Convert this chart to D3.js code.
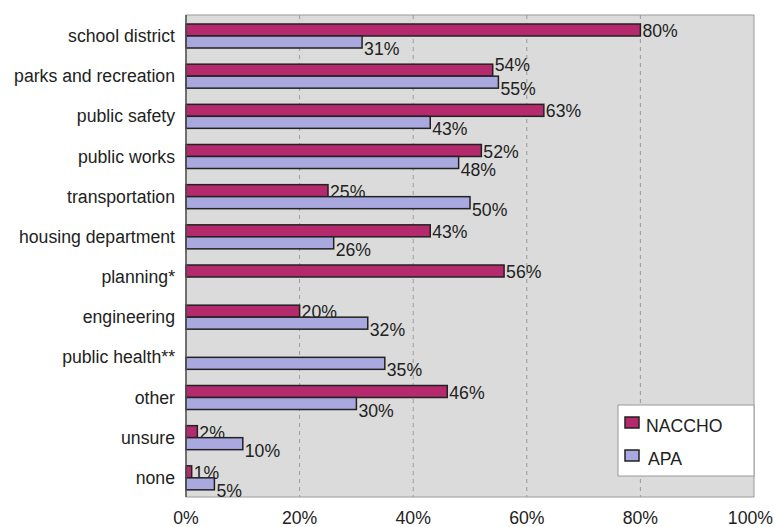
<!DOCTYPE html>
<html>
<head>
<meta charset="utf-8">
<script src="https://cdn.jsdelivr.net/npm/d3@7"></script>
<style>
  body { margin: 0; background: #fff; }
  svg { display: block; }
</style>
</head>
<body>
<svg id="chart" width="775" height="527"></svg>
<script>
// --- data ---
const categories = ["school district", "parks and recreation", "public safety", "public works",
  "transportation", "housing department", "planning*", "engineering", "public health**",
  "other", "unsure", "none"];
const naccho = [80, 54, 63, 52, 25, 43, 56, 20, null, 46, 2, 1];
const apa = [31, 55, 43, 48, 50, 26, null, 32, 35, 30, 10, 5];
const seriesNames = ["NACCHO", "APA"];
const ticks = [0, 20, 40, 60, 80, 100];

const width = 775, height = 527;
const margin = { top: 15, right: 21, bottom: 30, left: 186 };
const font = "'Liberation Sans', Arial, sans-serif";
const fontSize = "19px";
const squeeze = 0.93; // fake a condensed face
const colors = ["#b52a6c", "#a9a9e0"];

const svg = d3.select("#chart");

const x = d3.scaleLinear().domain([0, 100]).range([margin.left, width - margin.right]);
const y = d3.scaleBand().domain(categories).range([margin.top, height - margin.bottom]);
const barH = 12;

// helper: condensed text
const label = (sel, tx, ty, str, anchor) =>
  sel.append("text")
    .attr("transform", `translate(${tx},${ty}) scale(${squeeze},1)`)
    .attr("text-anchor", anchor || "start")
    .attr("font-family", font)
    .attr("font-size", fontSize)
    .attr("fill", "#222")
    .text(str);

// plot background
svg.append("rect")
  .attr("x", x(0)).attr("y", margin.top)
  .attr("width", x(100) - x(0)).attr("height", y.range()[1] - margin.top)
  .attr("fill", "#dadbda")
  .attr("stroke", "#9a9a9a").attr("stroke-width", 1);

// gridlines
svg.append("g")
  .selectAll("line")
  .data(ticks.filter(t => t > 0 && t < 100))
  .join("line")
  .attr("x1", d => x(d)).attr("x2", d => x(d))
  .attr("y1", margin.top).attr("y2", y.range()[1])
  .attr("stroke", "#9a9a9a")
  .attr("stroke-dasharray", "4,4");

// bars
const rows = categories.map((c, i) => ({ cat: c, vals: [naccho[i], apa[i]] }));
const groups = svg.append("g")
  .selectAll("g")
  .data(rows)
  .join("g")
  .attr("transform", d => `translate(0, ${y(d.cat) + 9})`);

groups.each(function (d) {
  const g = d3.select(this);
  // labels nudged apart when both values end up at the same spot
  const close = d.vals[0] != null && d.vals[1] != null && Math.abs(d.vals[0] - d.vals[1]) <= 2;
  d.vals.forEach((v, s) => {
    if (v == null) return;
    g.append("rect")
      .attr("x", x(0))
      .attr("y", s * barH)
      .attr("width", x(v) - x(0))
      .attr("height", barH)
      .attr("fill", colors[s])
      .attr("stroke", "#222")
      .attr("stroke-width", 1.5);
    const ly = s === 0 ? (close ? 7 : 13) : barH + 19;
    label(g, x(v) + 2, ly, v + "%");
  });
});

// left axis line
svg.append("line")
  .attr("x1", x(0)).attr("x2", x(0))
  .attr("y1", margin.top).attr("y2", y.range()[1])
  .attr("stroke", "#555").attr("stroke-width", 1.5);

// category labels
const catG = svg.append("g");
categories.forEach(c => label(catG, x(0) - 11, y(c) + y.bandwidth() / 2 + 7, c, "end"));

// x tick labels (last one kept inside the page)
const tickG = svg.append("g");
ticks.forEach((t, i) => {
  if (i === ticks.length - 1) label(tickG, width - 2, 524, t + "%", "end");
  else label(tickG, x(t), 524, t + "%", "middle");
});

// legend
const legend = svg.append("g").attr("transform", "translate(618, 405)");
legend.append("rect")
  .attr("width", x(100) - 618).attr("height", 71)
  .attr("fill", "#fff").attr("stroke", "#9a9a9a");
seriesNames.forEach((n, i) => {
  legend.append("rect")
    .attr("x", 7).attr("y", 12 + i * 33)
    .attr("width", 14).attr("height", 11)
    .attr("fill", colors[i]).attr("stroke", "#222").attr("stroke-width", 1.5);
  label(legend, 28 + i * 2, 27 + i * 33, n);
});
</script>
</body>
</html>
